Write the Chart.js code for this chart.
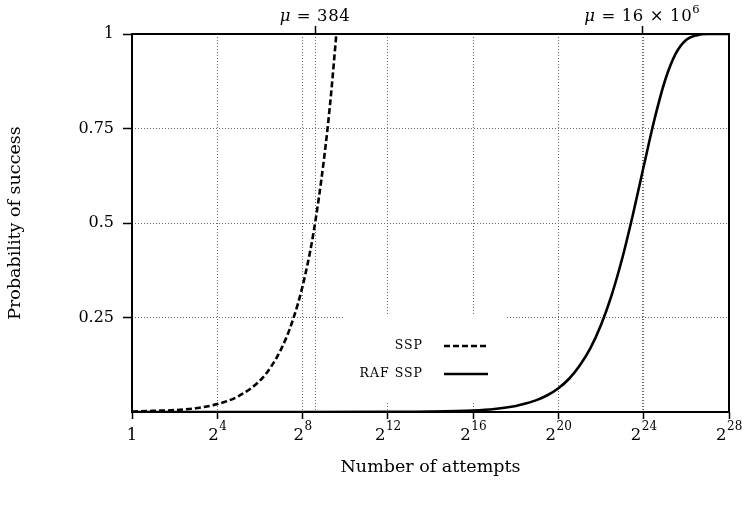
<!DOCTYPE html>
<html>
<head>
<meta charset="utf-8">
<style>
  html, body { margin: 0; padding: 0; background: #fff; }
  #wrap { width: 742px; height: 505px; }
</style>
<script src="https://cdn.jsdelivr.net/npm/chart.js@4.4.0/dist/chart.umd.min.js"></script>
</head>
<body>
<div id="wrap"><canvas id="chart" width="742" height="505"></canvas></div>
<script>
// x values are exponents: attempts = 2^x
const sspExp  = [0, 1, 2, 3, 4, 5, 6, 6.5, 7, 7.5, 8, 8.5, 9, 9.3, 9.585];
const sspProb = [0.001, 0.003, 0.005, 0.01, 0.021, 0.042, 0.083, 0.118, 0.167, 0.236, 0.333, 0.47, 0.667, 0.82, 1.0];

const rafExp  = [0, 4, 8, 12, 14, 16, 17, 18, 18.5, 19, 19.5, 20, 20.5, 21, 21.5, 22, 22.5, 23, 23.5, 24, 24.5, 25, 25.5, 26, 26.5, 27, 28];
const rafProb = [0, 0, 0, 0.0003, 0.001, 0.004, 0.008, 0.016, 0.023, 0.032, 0.045, 0.063, 0.088, 0.123, 0.169, 0.231, 0.31, 0.408, 0.524, 0.65, 0.773, 0.877, 0.948, 0.985, 0.997, 1.0, 1.0];

const xTickExp = [0, 4, 8, 12, 16, 20, 24, 28];
const yTicks = [0.25, 0.5, 0.75, 1];
const muValues = [384, 16e6];
const muText = [['384', ''], ['16 × 10', '6']];

const FONT = '"DejaVu Serif", serif';
const GRID = {
  color: '#666',
  lineWidth: 1,
  tickColor: '#000',
  tickWidth: 1.5,
};

const toXY = (xs, ys) => xs.map((x, i) => ({ x, y: ys[i] }));

// draws tick labels, titles, legend and the frame
const decor = {
  id: 'decor',
  beforeDatasetsDraw(chart) {
    const c = chart.ctx;
    c.save();
    c.fillStyle = '#fff';
    c.fillRect(345, 316, 160, 87);
    c.restore();
  },
  afterDatasetsDraw(chart) {
    const c = chart.ctx;
    c.save();
    c.fillStyle = '#000';
    c.strokeStyle = '#000';
    c.font = '12.5px ' + FONT;
    c.letterSpacing = '1px';
    c.textAlign = 'right';
    c.textBaseline = 'middle';
    c.fillText('SSP', 423, 346);
    c.fillText('RAF SSP', 423, 374);
    c.letterSpacing = '0px';
    c.lineWidth = 2.6;
    c.setLineDash([6, 3]);
    c.beginPath(); c.moveTo(444, 346); c.lineTo(488, 346); c.stroke();
    c.setLineDash([]);
    c.beginPath(); c.moveTo(444, 374); c.lineTo(488, 374); c.stroke();
    c.restore();
  },
  afterDraw(chart) {
    const c = chart.ctx;
    const a = chart.chartArea;
    const xs = chart.scales.x;
    c.save();
    c.fillStyle = '#000';
    c.strokeStyle = '#000';
    c.lineWidth = 2;
    c.strokeRect(a.left, a.top, a.right - a.left, a.bottom - a.top);

    // bottom tick labels 1, 2^4 ... 2^28
    c.textBaseline = 'alphabetic';
    xTickExp.forEach((e) => {
      const px = xs.getPixelForValue(e);
      if (e === 0) {
        c.font = '16.5px ' + FONT;
        c.textAlign = 'center';
        c.fillText('1', px, 440);
        return;
      }
      c.font = '16.5px ' + FONT;
      const wb = c.measureText('2').width;
      c.font = '12px ' + FONT;
      const we = c.measureText(String(e)).width;
      const x0 = px - (wb + we) / 2;
      c.textAlign = 'left';
      c.font = '16.5px ' + FONT;
      c.fillText('2', x0, 440);
      c.font = '12px ' + FONT;
      c.fillText(String(e), x0 + wb + 0.5, 429.5);
    });

    // top labels: mu values
    muValues.forEach((m, i) => {
      const px = xs.getPixelForValue(Math.log2(m));
      const [main, sup] = muText[i];
      c.letterSpacing = '0.6px';
      c.font = 'italic 16.5px ' + FONT;
      const wm = c.measureText('μ').width;
      c.font = '16.5px ' + FONT;
      const wr = c.measureText(' = ' + main).width;
      c.font = '11.5px ' + FONT;
      const ws = sup ? c.measureText(sup).width : 0;
      const x0 = px - (wm + wr + ws) / 2;
      c.textAlign = 'left';
      c.font = 'italic 16.5px ' + FONT;
      c.fillText('μ', x0, 21);
      c.font = '16.5px ' + FONT;
      c.fillText(' = ' + main, x0 + wm, 21);
      if (sup) {
        c.font = '11.5px ' + FONT;
        c.fillText(sup, x0 + wm + wr, 13);
      }
    });
    c.letterSpacing = '0px';

    // axis titles
    c.font = '17.5px ' + FONT;
    c.textAlign = 'center';
    c.textBaseline = 'middle';
    c.fillText('Number of attempts', (a.left + a.right) / 2, 467);
    c.translate(15.5, (a.top + a.bottom) / 2);
    c.rotate(-Math.PI / 2);
    c.fillText('Probability of success', 0, 0);
    c.restore();
  },
};

new Chart(document.getElementById('chart'), {
  type: 'line',
  data: {
    datasets: [
      {
        label: 'SSP',
        data: toXY(sspExp, sspProb),
        borderColor: '#000',
        borderWidth: 2.6,
        borderDash: [6, 3],
        pointRadius: 0,
        cubicInterpolationMode: 'monotone',
        fill: false,
      },
      {
        label: 'RAF SSP',
        data: toXY(rafExp, rafProb),
        borderColor: '#000',
        borderWidth: 2.6,
        pointRadius: 0,
        cubicInterpolationMode: 'monotone',
        fill: false,
      },
    ],
  },
  options: {
    responsive: false,
    animation: false,
    layout: { padding: { left: 0, right: 13, top: 0, bottom: 0 } },
    plugins: {
      legend: { display: false },
      tooltip: { enabled: false },
    },
    scales: {
      x: {
        type: 'linear',
        position: 'bottom',
        min: 0,
        max: 28,
        afterBuildTicks: (s) => { s.ticks = xTickExp.map((v) => ({ value: v })); },
        ticks: { display: false },
        grid: { ...GRID, tickLength: 7 },
        border: { display: false, dash: [1, 2] },
        afterFit: (s) => { s.height = 93; },
      },
      xTop: {
        type: 'linear',
        position: 'top',
        min: 0,
        max: 28,
        afterBuildTicks: (s) => { s.ticks = muValues.map((v) => ({ value: Math.log2(v) })); },
        ticks: { display: false },
        grid: { ...GRID, tickLength: 8 },
        border: { display: false, dash: [1, 2] },
        afterFit: (s) => { s.height = 34; },
      },
      y: {
        type: 'linear',
        min: 0,
        max: 1,
        afterBuildTicks: (s) => { s.ticks = yTicks.map((v) => ({ value: v })); },
        ticks: {
          color: '#000',
          padding: 9,
          font: { family: FONT, size: 16 },
          callback: (v) => String(v),
        },
        grid: { ...GRID, tickLength: 9 },
        border: { display: false, dash: [1, 2] },
        afterFit: (s) => { s.width = 132; },
      },
    },
  },
  plugins: [decor],
});
</script>
</body>
</html>
